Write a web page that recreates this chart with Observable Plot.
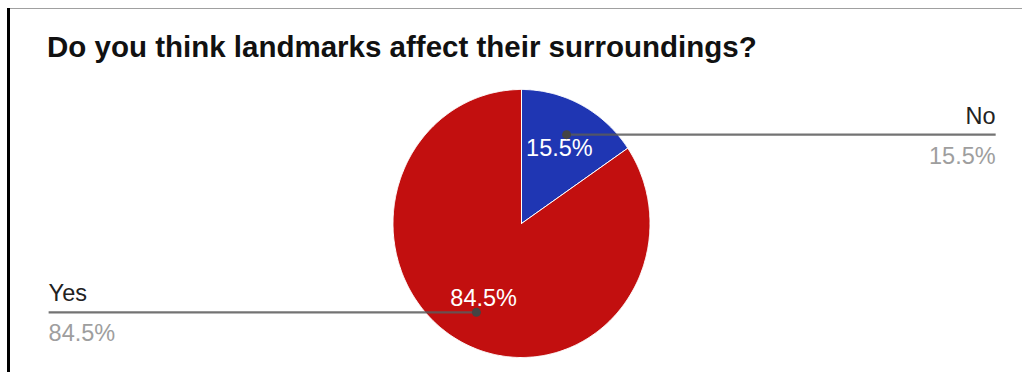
<!DOCTYPE html>
<html><head><meta charset="utf-8">
<script src="https://cdn.jsdelivr.net/npm/d3@7"></script>
<script src="https://cdn.jsdelivr.net/npm/@observablehq/plot@0.6"></script>
<style>
body{margin:0;background:#fff;}
#frame{position:relative;width:1022px;height:372px;overflow:hidden;font-family:"Liberation Sans",Arial,sans-serif;}
#topline{position:absolute;left:9px;right:0;top:8px;height:1px;background:#a0a0a0;}
#leftline{position:absolute;left:7px;top:8px;bottom:0;width:3px;background:#000;}
#title{position:absolute;left:47px;top:32px;margin:0;font-size:29.5px;font-weight:bold;line-height:1;color:#111;white-space:nowrap;}
#chart{position:absolute;left:0;top:70px;}
</style></head><body>
<div id="frame"><div id="topline"></div><div id="leftline"></div><h2 id="title">Do you think landmarks affect their surroundings?</h2><div id="chart"></div></div>
<script>
const categories = ["No", "Yes"];
const percents = [15.5, 84.5];
const percentLabels = ["15.5%", "84.5%"];
const sliceColors = ["#1f36b3", "#c20f0f"];

const total = d3.sum(percents);
let acc = 0;
const slices = categories.map((c, i) => {
  const a0 = acc / total * 2 * Math.PI;
  acc += percents[i];
  const a1 = acc / total * 2 * Math.PI;
  const mid = (a0 + a1) / 2;
  return {category: c, a0, a1, mid, label: percentLabels[i], side: mid < Math.PI ? 1 : -1};
});
const pts = slices.flatMap(s => {
  const n = Math.max(2, Math.ceil((s.a1 - s.a0) / (2 * Math.PI) * 720));
  const arr = [{category: s.category, x: 0, y: 0}];
  for (let k = 0; k <= n; k++) {
    const a = s.a0 + (s.a1 - s.a0) * k / n;
    arr.push({category: s.category, x: Math.sin(a), y: Math.cos(a)});
  }
  arr.push({category: s.category, x: 0, y: 0});
  return arr;
});
const leaders = slices.map(s => ({
  category: s.category, label: s.label, side: s.side,
  x1: 0.75 * Math.sin(s.mid), y: 0.75 * Math.cos(s.mid),
  x2: s.side > 0 ? 3.69 : -3.68
}));
const font = "Liberation Sans, Arial, sans-serif";
const fs = 23.5;
const chart = Plot.plot({
  width: 1022, height: 302, margin: 0,
  style: {fontFamily: font, background: "transparent", overflow: "visible"},
  x: {domain: [-1, 1], range: [392.5, 649.5], axis: null},
  y: {domain: [-1, 1], range: [287, 19], axis: null},
  color: {domain: categories, range: sliceColors},
  marks: [
    Plot.line(pts, {x: "x", y: "y", z: "category", fill: "category", stroke: "white", strokeWidth: 1}),
    Plot.text(slices, {x: d => 0.63 * Math.sin(d.mid), y: d => 0.63 * Math.cos(d.mid), text: "label", fill: "white", fontSize: fs, fontFamily: font}),
    Plot.link(leaders, {x1: "x1", y1: "y", x2: "x2", y2: "y", stroke: "#5a5a5a", strokeOpacity: 0.85, strokeWidth: 2.2}),
    Plot.dot(leaders, {x: "x1", y: "y", r: 4.5, fill: "#444", stroke: "none"}),
    Plot.text(leaders.filter(d => d.side > 0), {x: "x2", y: "y", text: "category", textAnchor: "end", lineAnchor: "bottom", dy: -11, fill: "#222", fontSize: fs, fontFamily: font}),
    Plot.text(leaders.filter(d => d.side > 0), {x: "x2", y: "y", text: "label", textAnchor: "end", lineAnchor: "bottom", dy: 29, fill: "#9e9e9e", fontSize: fs, fontFamily: font}),
    Plot.text(leaders.filter(d => d.side < 0), {x: "x2", y: "y", text: "category", textAnchor: "start", lineAnchor: "bottom", dy: -11, fill: "#222", fontSize: fs, fontFamily: font}),
    Plot.text(leaders.filter(d => d.side < 0), {x: "x2", y: "y", text: "label", textAnchor: "start", lineAnchor: "bottom", dy: 29, fill: "#9e9e9e", fontSize: fs, fontFamily: font})
  ]
});
document.getElementById("chart").appendChild(chart);
</script>
</body></html>
